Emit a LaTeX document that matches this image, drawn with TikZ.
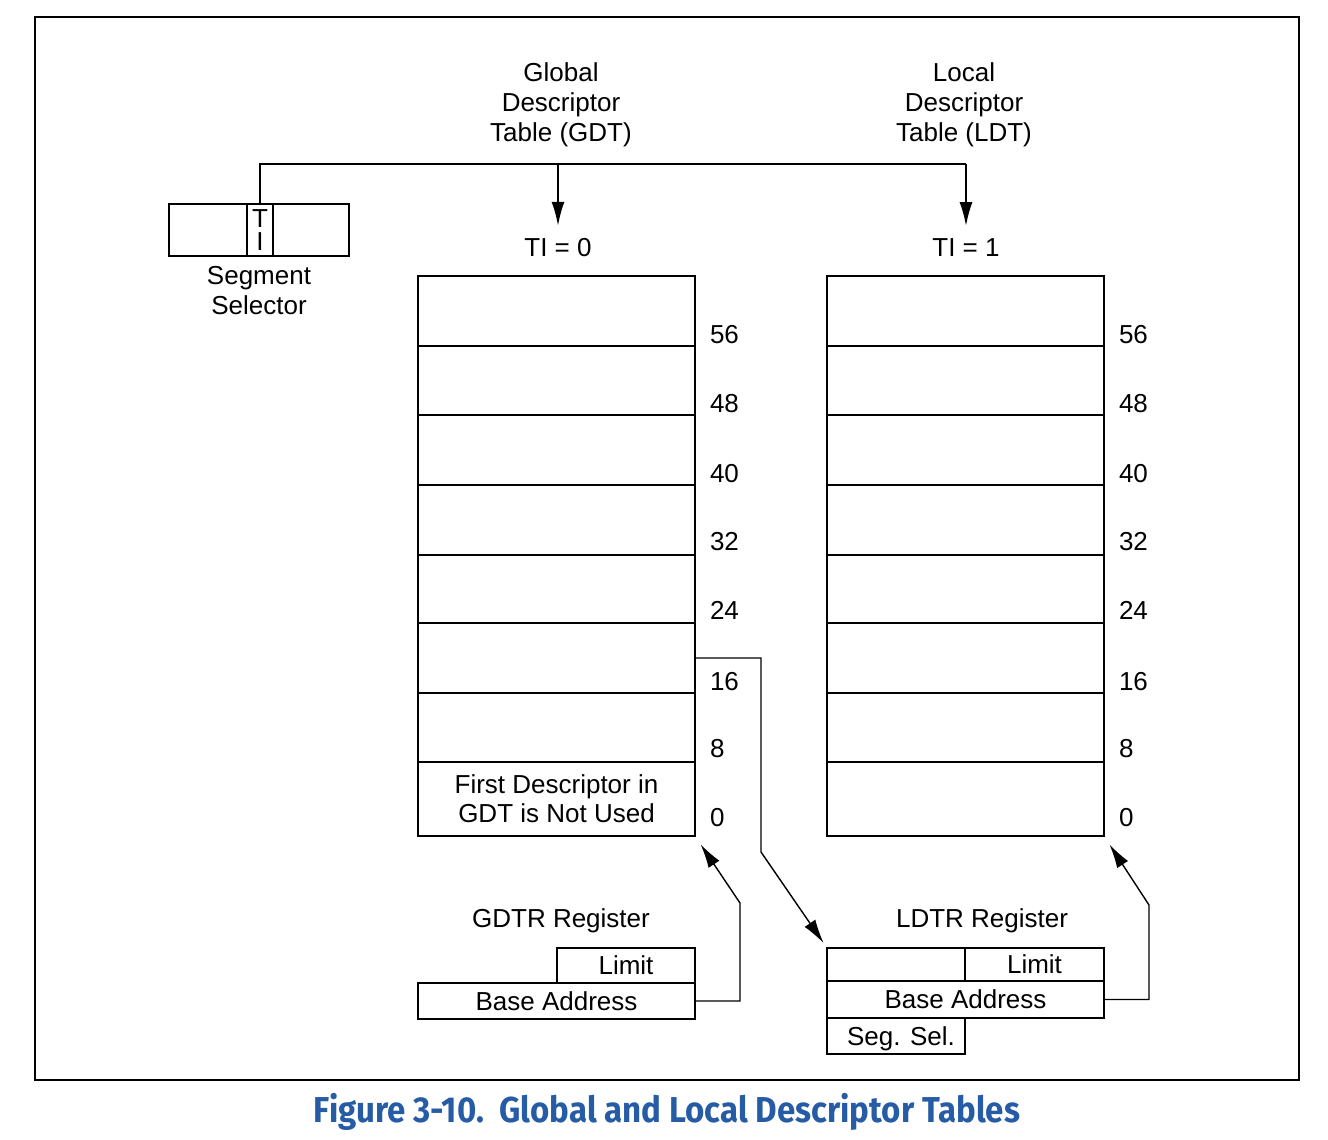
\documentclass[tikz,border=0pt]{standalone}
\usepackage{fontspec}
\usepackage{graphicx}
\setmainfont{Liberation Sans}
\newfontfamily\capfont{Fira Sans}
\usetikzlibrary{arrows.meta}
\definecolor{capblue}{RGB}{38,92,165}
\newcommand\dfont{\fontsize{13pt}{15pt}\selectfont}
\begin{document}
\begin{tikzpicture}[x=0.5pt,y=-0.5pt,
  box/.style={draw,line width=1pt,inner sep=0pt,outer sep=0pt,anchor=north west,font=\dfont,text height=9.3pt,text depth=0pt},
  row/.style={draw,line width=1pt,inner sep=0pt,outer sep=0pt,anchor=north west,minimum width=138.5pt},
  lbl/.style={inner sep=0pt,outer sep=0pt,font=\dfont},
  num/.style={lbl,anchor=base west},
  arr/.style={-{Latex[length=12pt,width=6.5pt]},line width=1pt},
  conn/.style={-{Latex[length=12pt,width=6.5pt]},line width=0.7pt},
  ]
\useasboundingbox (0,0) rectangle (1328,1140);

% outer frame
\node[draw,line width=1pt,inner sep=0pt,outer sep=0pt,anchor=north west,minimum width=632pt,minimum height=531.5pt] (frame) at (35,17) {};

% segment selector
\node[box,minimum width=39pt,minimum height=26pt] (sl) at (169,204) {};
\node[draw,line width=1pt,inner sep=0pt,outer sep=0pt,anchor=north west,minimum width=13pt,minimum height=26pt,align=center,font=\fontsize{13pt}{11.5pt}\selectfont] (ti) at (247,204) {T\\I};
\node[box,minimum width=38pt,minimum height=26pt] (sr) at (273,204) {};
\node[lbl,anchor=north,align=center] (seltxt) at (259,266) {Segment\\Selector};

% table headings
\node[lbl,anchor=north,align=center] (gdthead) at (561,63) {Global\\Descriptor\\Table (GDT)};
\node[lbl,anchor=north,align=center] (ldthead) at (964,63) {Local\\Descriptor\\Table (LDT)};

\node[lbl,anchor=base] (t0) at (558,256) {TI = 0};
\node[lbl,anchor=base] (t1) at (966,256) {TI = 1};

% TI line and arrows
\coordinate (jg) at (558,164);
\coordinate (jl) at (966,164);
\draw[line width=1pt] (ti.north) |- (jl);
\draw[arr,shorten >=6pt] (jg) -- (t0.north);
\draw[arr,shorten >=6pt] (jl) -- (t1.north);

% GDT and LDT rows
\foreach \n/\t/\h in {7/276/70,6/346/69,5/415/70,4/485/70,3/555/68,2/623/70,1/693/69}{
  \node[row,minimum height=\h*0.5pt] (g\n) at (418,\t) {};
  \node[row,minimum height=\h*0.5pt] (l\n) at (827,\t) {};
}
\node[row,minimum height=37pt,align=center,font=\fontsize{13pt}{14.5pt}\selectfont] (g0) at (418,762) {First Descriptor in\\GDT is Not Used};
\node[row,minimum height=37pt] (l0) at (827,762) {};

% offsets
\foreach \v/\b in {56/343,48/412,40/482,32/550,24/619,16/690,8/757,0/826}{
  \node[num] (gn\v) at (710,\b) {\v};
  \node[num] (ln\v) at (1119,\b) {\v};
}

% GDTR register
\node[lbl,anchor=base] (gdtrtxt) at (561,927) {GDTR Register};
\node[box,minimum width=69pt,minimum height=17.5pt] (gl) at (557,948) {Limit};
\node[box,minimum width=138.5pt,minimum height=18pt] (gb) at (418,983) {Base Address};

% LDTR register
\node[lbl,anchor=base] (ldtrtxt) at (982,927) {LDTR Register};
\node[box,minimum width=69pt,minimum height=16.5pt] (le) at (827,948) {};
\node[box,minimum width=69.5pt,minimum height=16.5pt] (ll) at (965,948) {Limit};
\node[box,minimum width=138.5pt,minimum height=18.5pt] (lb) at (827,981) {Base Address};
\node[box,minimum width=69pt,minimum height=18pt] (ls) at (827,1018) {\hspace{5pt}Seg. Sel.};

% connectors
\coordinate (bA) at (761,852);
\coordinate (bB) at (740,903);
\coordinate (bC) at (1149,905);
\draw[conn,shorten >=3pt] (g2.east) -- (g2.east -| bA) -- (bA) -- (le.north west);
\draw[conn,shorten >=5pt] (gb.east) -- (gb.east -| bB) -- (bB) -- (g0.south east);
\draw[conn,shorten >=5pt] (lb.east) -- (lb.east -| bC) -- (bC) -- (l0.south east);

% caption
\node[anchor=base,inner sep=0pt,text=capblue,font=\capfont\bfseries\fontsize{18pt}{20pt}\selectfont] (cap) at (667,1122) {\resizebox{353pt}{\height}{Figure 3-10.\ \ Global and Local Descriptor Tables}};
\end{tikzpicture}
\end{document}
